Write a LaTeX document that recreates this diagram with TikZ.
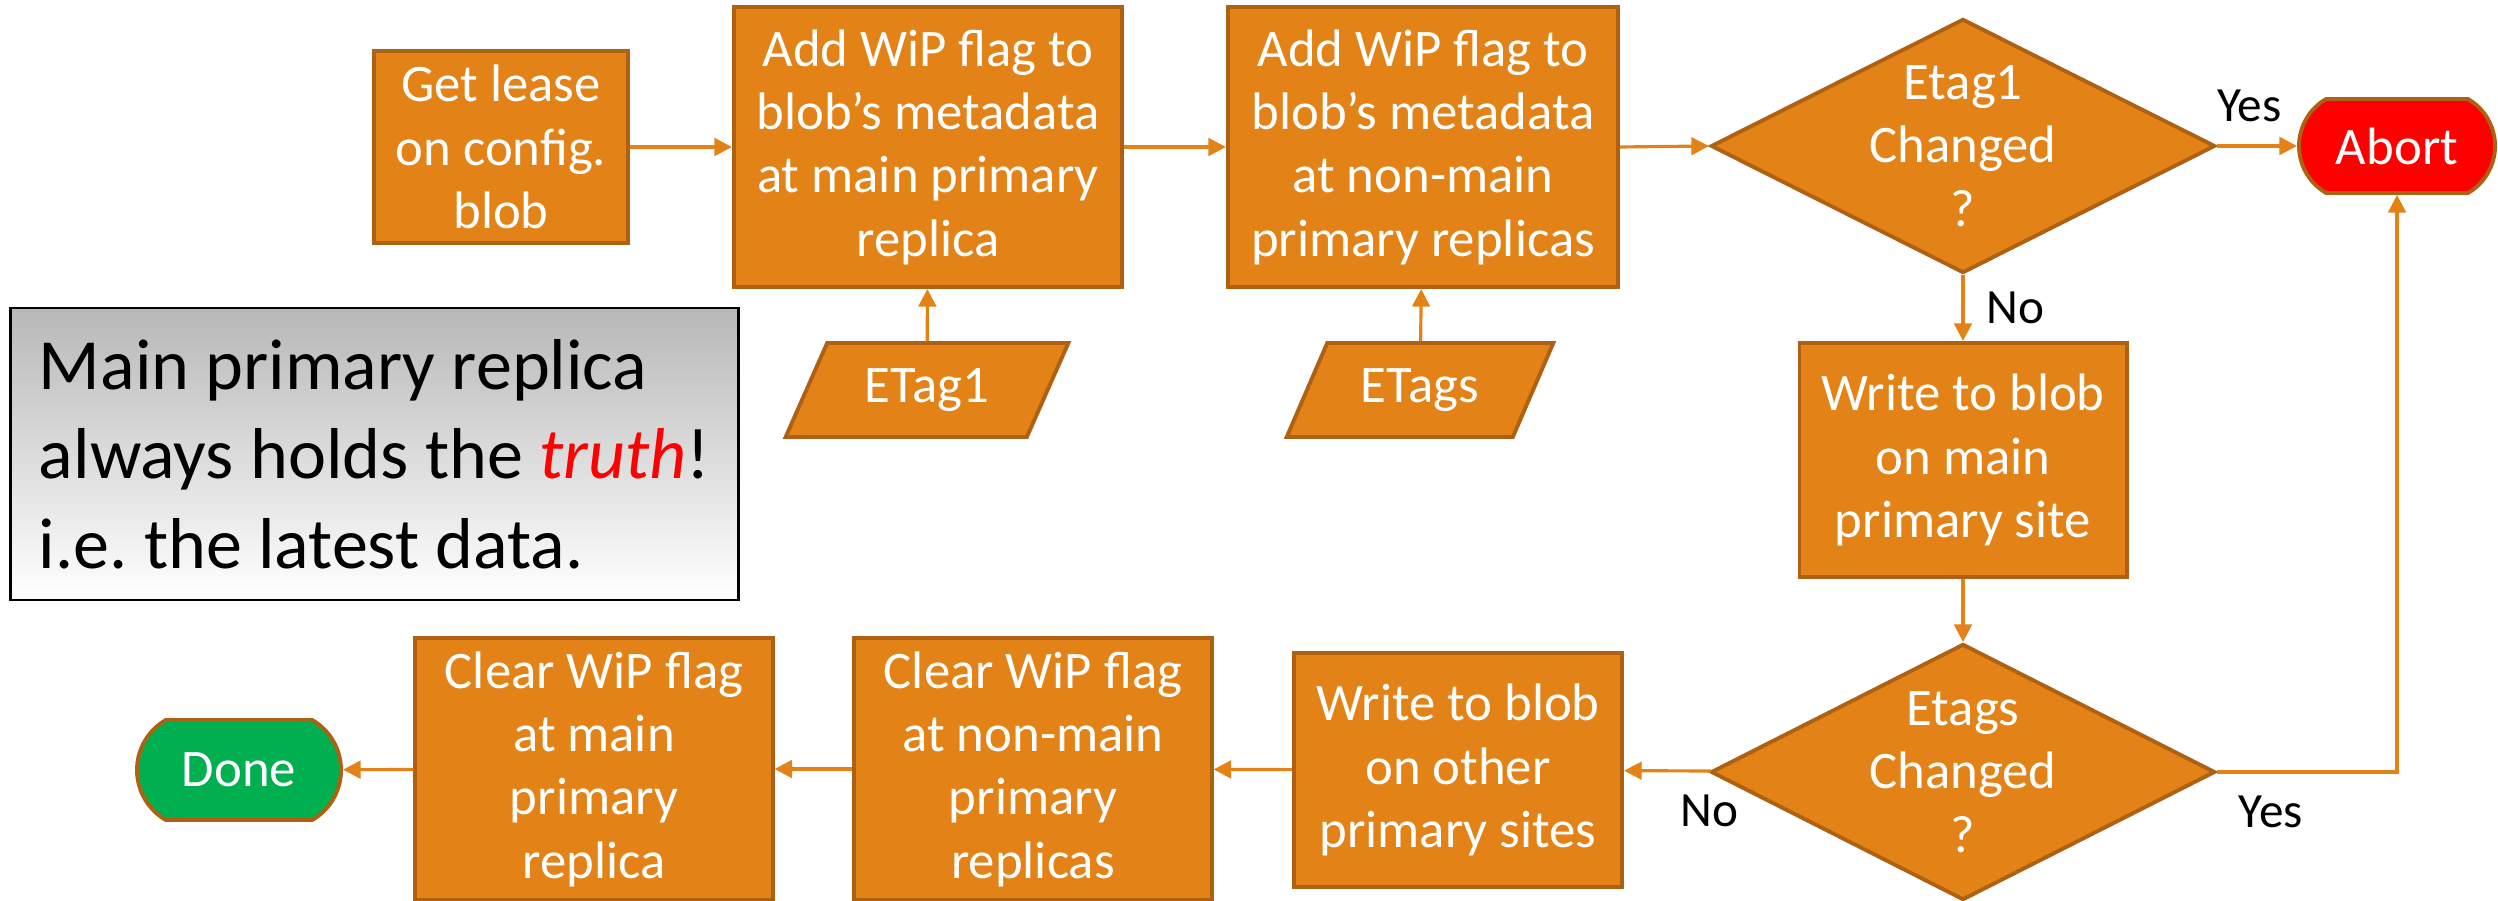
\documentclass[tikz,border=0pt]{standalone}
\usepackage{fontspec}
\setmainfont{Carlito}
\usetikzlibrary{shapes.geometric, shapes.misc, arrows.meta}
\definecolor{flow}{HTML}{E38217}
\definecolor{flowedge}{HTML}{AE6112}
\definecolor{go}{HTML}{00B050}
\tikzset{>={Triangle[length=5pt,width=5pt]}}
\tikzset{
  box/.style={rectangle, draw=flowedge, line width=1.1pt, fill=flow, text=white,
    align=center, inner sep=0pt, font=\fontsize{15}{18}\selectfont},
  decide/.style={box, diamond, aspect=2, inner sep=-2pt},
  io/.style={box, trapezium, trapezium left angle=59, trapezium right angle=121,
    trapezium stretches=true},
  term/.style={box, rounded rectangle, rounded rectangle arc length=120},
  conn/.style={draw=flow, line width=0.9pt, ->},
  lbl/.style={font=\fontsize{14}{16}\selectfont, text=black}
}

\begin{document}
\begin{tikzpicture}[x=0.01cm, y=-0.01cm]
    \useasboundingbox (0,0) rectangle (2498,901);
    % top row
    \node[box, minimum width=2.53cm, minimum height=1.92cm] (lease) at (501,147) {Get lease\\on config.\\blob};
    \node[box, minimum width=3.88cm, minimum height=2.8cm] (addmain) at (928,147) {Add WiP flag to\\blob’s metadata\\at main primary\\replica};
    \node[box, minimum width=3.9cm, minimum height=2.8cm] (addnon) at (1423,147) {Add WiP flag to\\blob’s metadata\\at non-main\\primary replicas};
    \node[decide, minimum width=5.04cm, minimum height=2.54cm] (chka) at (1963,146) {Etag1\\Changed\\?};
    \node[term, fill=red, minimum width=1.96cm, minimum height=0.94cm] (abort) at (2397,146) {Abort};
    % inputs
    \node[io, minimum width=2.84cm, minimum height=0.94cm] (etaga) at (927,390) {ETag1};
    \node[io, minimum width=2.67cm, minimum height=0.94cm] (etags) at (1420,390) {ETags};
    % right column
    \node[box, minimum width=3.27cm, minimum height=2.34cm] (writea) at (1963,460) {Write to blob\\on main\\primary site};
    \node[decide, minimum width=5.04cm, minimum height=2.56cm] (chkb) at (1963,772) {Etags\\Changed\\?};
    % bottom row
    \node[box, minimum width=3.28cm, minimum height=2.34cm] (writeb) at (1458,770) {Write to blob\\on other\\primary sites};
    \node[box, minimum width=3.57cm, minimum height=2.62cm] (clearb) at (1033,769) {Clear WiP flag\\at non-main\\primary\\replicas};
    \node[box, minimum width=3.57cm, minimum height=2.62cm] (cleara) at (594,769) {Clear WiP flag\\at main\\primary\\replica};
    \node[term, fill=go, minimum width=2.04cm, minimum height=1cm] (done) at (239,770) {Done};
    % note
    \node[draw=black, line width=0.8pt, top color=black!28, bottom color=white,
      minimum height=2.92cm, minimum width=7.27cm, align=left,
      font=\fontsize{20.5}{25.5}\selectfont\frenchspacing] (note) at (374.5,454)
      {Main primary replica\\always holds the \textcolor{red}{\textit{truth}}!\\i.e. the latest data.};
    % connectors
    \draw[conn] (lease) -- (addmain);
    \draw[conn] (addmain) -- (addnon);
    \draw[conn] (addnon.east) -- (chka.west);
    \draw[conn] (chka) -- node[lbl, above=3pt, pos=0.4] {Yes} (abort);
    \draw[conn] (chka) -- node[lbl, right=3pt] {No} (writea);
    \draw[conn] (writea) -- (chkb);
    \draw[conn] (chkb) -- node[lbl, below=3pt, pos=0.02] {No} (writeb);
    \draw[conn] (chkb.east) -| node[lbl, below=3pt, pos=0.15] {Yes} (abort.south);
    \draw[conn] (writeb) -- (clearb);
    \draw[conn] (clearb) -- (cleara);
    \draw[conn] (cleara) -- (done);
    \draw[conn] (etaga) -- (addmain);
    \draw[conn] (etags) -- (addnon);
\end{tikzpicture}
\end{document}
